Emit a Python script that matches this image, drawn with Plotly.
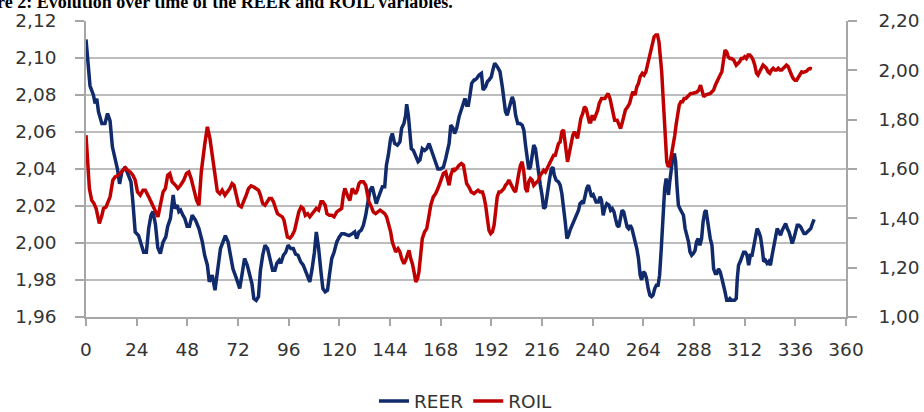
import plotly.graph_objects as go

# ---- data ----
reer_t = [0, 1.1, 1.9, 3.5, 4.3, 5.1, 5.9, 7.5, 9.0, 10.2, 11.4, 12.5, 13.8, 14.9, 15.9, 17.0, 18.6, 20.2, 21.3, 22.2,
          23.3, 24.9, 26.2, 27.3, 28.6, 29.7, 30.8, 31.7, 32.9, 34.0, 35.2, 36.5, 37.8, 38.7, 40.0, 41.3, 42.1, 43.2,
          44.0, 44.8, 45.9, 46.8, 47.9, 49.0, 50.3, 51.9, 53.5, 55.1, 56.2, 57.5, 58.4, 59.8, 61.1,
          62.7, 63.7, 64.9, 66.0, 67.3, 68.5, 69.6, 71.2, 72.8, 73.9, 75.1, 76.4, 77.5, 78.6, 79.5, 80.6, 81.7, 82.6,
          83.7, 84.8, 86.0, 87.3, 88.4, 89.5, 90.4, 91.5, 92.3, 93.5, 94.6, 95.7, 97.0, 98.2, 99.3, 100.4, 101.6,
          102.9, 104.0, 105.0, 106.0, 107.1, 108.2, 109.1, 110.2, 111.3, 112.2, 113.3, 114.4, 115.3, 116.4, 117.5,
          118.8, 120.0, 121.1, 122.3,
          124.6, 126.1, 127.3, 128.2, 129.3, 130.4, 131.4, 132.5, 133.6, 134.5, 135.6, 136.4, 137.5, 138.3, 139.3,
          140.4, 141.5, 142.3, 143.2, 144.3, 145.1, 146.2, 147.5, 148.7, 149.5, 150.6, 151.4, 151.9, 152.7, 153.5,
          154.1, 155.1, 156.2, 157.3, 158.2, 159.3, 160.4, 161.4, 162.5, 163.6, 164.5, 165.6, 166.7, 168.0, 169.3,
          170.4, 171.2, 172.0, 172.8, 173.9, 174.6, 175.6, 176.7, 177.8, 178.8, 179.5, 180.3, 181.1, 181.9, 182.7,
          183.8,
          184.2, 185.1, 186.2, 187.3, 188.1, 189.3, 190.1, 190.9, 192.0, 192.9, 193.6, 194.8, 196.1, 197.2, 198.0,
          198.7, 199.5, 200.8, 201.9, 202.7, 203.5, 204.5, 205.5, 206.6, 207.4, 208.2, 209.0, 209.7, 210.5, 211.3,
          212.1, 212.9, 213.6, 214.4, 215.2, 216.0, 216.8, 217.6, 218.7, 219.6, 220.4, 221.2, 221.8, 222.7, 223.8,
          224.6, 225.4, 226.2, 227.0, 227.8, 228.5, 229.3, 230.1, 231.2, 232.2, 233.3, 234.0, 234.8, 235.6, 236.4,
          237.2, 238.0, 238.7, 239.5, 240.3, 241.6, 242.7, 243.5, 244.2, 245.0,
          245.7, 246.7, 247.7, 248.5, 249.3, 250.1, 250.8, 251.6, 252.4, 253.2, 253.9, 254.7, 255.5, 256.3, 257.0,
          257.8, 258.6, 259.4, 260.1, 260.9, 261.7, 262.5, 263.2, 264.0, 264.8, 265.5, 266.3, 267.1, 267.9, 268.6,
          269.4, 270.2, 271.0, 271.7, 272.5, 273.3, 274.1, 274.8, 275.3, 275.9, 276.5, 277.2, 277.9, 278.7, 279.3,
          279.9, 280.6, 281.3, 282.3, 283.0, 283.8, 284.6, 285.4, 286.1, 286.9, 287.7, 288.5, 289.2, 290.0, 290.8,
          291.6, 292.3, 293.1, 293.7, 294.3, 295.0, 295.7, 296.5, 297.3, 298.1, 298.8, 299.6, 300.4, 301.2, 301.9,
          302.7, 303.5, 304.2, 305.0, 305.8,
          307.2, 308.0, 308.5, 309.1, 309.9, 310.7, 311.5, 312.3, 313.1, 313.9, 314.7, 315.5, 316.3, 317.1, 317.9,
          318.7, 319.5, 320.3, 321.0, 321.8, 322.6, 323.4, 324.2, 325.0, 325.8, 326.6, 327.4, 328.2, 329.0, 329.8,
          330.6, 331.4, 332.2, 333.0, 333.7, 334.5, 335.3, 336.1, 336.9, 337.7, 338.5, 339.3, 340.1, 340.9, 341.7,
          342.5, 343.3, 344.1, 344.9]
reer_val = [2.110, 2.098, 2.085, 2.080, 2.0755, 2.078, 2.071, 2.0646, 2.0646, 2.070, 2.066, 2.052, 2.046, 2.040, 2.032,
            2.0385, 2.041, 2.036, 2.033, 2.0222, 2.006, 2.004, 1.9988, 1.995, 1.995, 2.008, 2.015, 2.017, 2.010, 1.9975,
            1.9943, 2.0005, 2.0033, 2.0089, 2.0133, 2.026, 2.0187, 2.0205, 2.017, 2.0178, 2.015, 2.0133, 2.009, 2.009,
            2.015, 2.0123, 2.0078, 2.0006, 1.9934, 1.988, 1.979, 1.9826, 1.9745,
            1.988, 1.997, 2.0006, 2.004, 2.0006, 1.994, 1.986, 1.981, 1.9754, 1.983, 1.9916, 1.988, 1.9826, 1.978,
            1.970, 1.969, 1.971, 1.985, 1.9934, 1.9988, 1.997, 1.990, 1.9853, 1.9853, 1.989, 1.9907, 1.989, 1.9934,
            1.995, 1.9988, 1.997, 1.997, 1.994, 1.9934, 1.990, 1.988, 1.9844, 1.981, 1.979, 1.986, 1.995, 2.006,
            1.997, 1.9844, 1.9754, 1.9736, 1.9745, 1.9826, 1.9916, 1.995, 2.0006, 2.0033, 2.005, 2.005,
            2.004, 2.005, 2.006, 2.0024, 2.006, 2.007, 2.0096, 2.015, 2.0222, 2.0286, 2.0304, 2.026, 2.0213, 2.024,
            2.0276, 2.0304, 2.0304, 2.042, 2.0475, 2.0565, 2.0592, 2.0538, 2.0529, 2.0547, 2.062, 2.0646, 2.069,
            2.075, 2.069, 2.060, 2.051, 2.050, 2.0475, 2.044, 2.045, 2.051, 2.050, 2.051, 2.0538, 2.050, 2.0466,
            2.043, 2.040, 2.040, 2.041, 2.0457, 2.049, 2.0538, 2.0637, 2.062, 2.0592, 2.062, 2.0682, 2.0727, 2.0763,
            2.0781, 2.0745, 2.0745, 2.080, 2.0863, 2.0881,
            2.0881, 2.089, 2.0908, 2.0917, 2.0827, 2.0845, 2.0872, 2.0881, 2.0899, 2.0944, 2.0971, 2.0953, 2.0926,
            2.0845, 2.0773, 2.071, 2.0691, 2.0745, 2.079, 2.0763, 2.0691, 2.0646, 2.0646, 2.0637, 2.061, 2.0529,
            2.0457, 2.040, 2.041, 2.0475, 2.0529, 2.051, 2.044, 2.0367, 2.0313, 2.026, 2.0186, 2.0195, 2.0295,
            2.0349, 2.040, 2.041, 2.0367, 2.034, 2.033, 2.0313, 2.0268, 2.0205, 2.0114, 2.0024, 2.004, 2.007, 2.009,
            2.0114, 2.015, 2.0177, 2.0213, 2.0222, 2.0213, 2.026, 2.0295, 2.0313, 2.0277, 2.025, 2.026, 2.0222,
            2.0222, 2.025, 2.023, 2.015,
            2.0186, 2.0213, 2.0205, 2.0177, 2.0186, 2.0168, 2.0132, 2.0096, 2.0087, 2.015, 2.0177, 2.0168, 2.0123,
            2.0087, 2.0078, 2.0096, 2.0078, 2.0042, 2.0006, 1.997, 1.9916, 1.9826, 1.980, 1.9844, 1.9835, 1.9808,
            1.9754, 1.9718, 1.971, 1.9718, 1.9754, 1.9772, 1.9772, 1.9826, 1.997, 2.015, 2.0295, 2.0349, 2.0313,
            2.026, 2.033, 2.0385, 2.0457, 2.0484, 2.044, 2.0313, 2.0205, 2.0186, 2.0168, 2.015, 2.0078, 2.0042,
            2.0006, 1.9952, 1.9934, 1.9943, 1.996, 2.0006, 2.0024, 1.9988, 2.0024, 2.0114, 2.0168, 2.0177, 2.0132,
            2.006, 2.0024, 1.9988, 1.986, 1.9835, 1.9835, 1.986, 1.9844, 1.9808, 1.978, 1.9736, 1.969, 1.969, 1.970,
            1.969,
            1.969, 1.970, 1.9808, 1.988, 1.990, 1.9925, 1.995, 1.995, 1.9934, 1.988, 1.9934, 1.9934, 1.9988, 2.0042,
            2.0078, 2.006, 2.0033, 1.997, 1.990, 1.9907, 1.989, 1.990, 1.988, 1.9934, 1.9988, 2.0033, 2.0078, 2.006,
            2.0042, 2.0069, 2.0087, 2.0105, 2.0078, 2.006, 2.0033, 1.9997, 2.0024, 2.006, 2.0096, 2.0096, 2.0087,
            2.0069, 2.0051, 2.0051, 2.006, 2.0069, 2.0078, 2.0105, 2.0128]

roil_t = [0, 0.6, 1.6, 2.7, 3.8, 4.8, 5.9, 6.3, 7.5, 8.3, 9.5, 10.6, 11.4, 12.7, 13.8, 15.4, 17.0, 18.6, 19.7, 21.0,
          22.2, 23.3, 24.4, 25.7, 27.0, 28.1, 29.7, 30.8, 32.1, 33.2, 34.1, 35.2, 36.5, 37.6, 38.7, 39.7, 40.8,
          42.4, 43.5, 44.8, 46.3, 47.6, 48.7, 49.8, 51.1, 52.4, 53.5, 54.6, 56.2, 57.5, 58.7, 59.8, 61.0, 62.2,
          63.4, 64.5, 65.8, 67.0, 68.1, 69.2, 70.1, 71.2, 72.3, 73.6, 74.8, 75.9, 77.0, 78.2, 79.5, 80.6, 81.7,
          82.6, 83.7, 84.8, 85.7, 86.8, 87.9, 88.8, 89.6, 90.7, 91.9, 93.0, 93.8, 94.6, 95.4, 96.6, 97.7, 98.8,
          99.7, 100.8, 101.9, 102.9, 103.9, 105.0, 106.0, 107.1, 108.2, 109.1, 110.2, 111.3, 112.2, 113.3, 114.1,
          115.3, 116.4, 117.5, 118.8, 120.0, 121.1, 121.9, 122.6,
          124.1, 125.0, 126.1, 126.9, 127.7, 128.5, 129.3, 130.1, 131.4, 132.5, 133.3, 134.0, 135.2, 136.1, 137.2,
          138.3, 139.3, 140.4, 141.5, 142.4, 143.5, 144.3, 145.1, 145.9, 146.7, 147.8, 148.7, 149.5, 150.6, 151.4,
          152.2, 153.0, 153.8, 154.6, 155.4, 156.2, 157.0, 157.7, 158.5, 159.3, 160.4, 161.4, 162.5, 163.3, 164.5,
          165.6, 166.7, 168.0, 169.3, 170.4, 171.2, 172.0, 172.8, 173.9, 174.6, 175.6, 176.7, 177.8, 178.8, 179.5,
          180.3, 181.4, 182.5, 183.8,
          184.6, 185.7, 186.7, 187.8, 188.5, 189.3, 190.1, 190.9, 191.7, 192.5, 193.3, 194.0, 194.8, 195.6, 196.4,
          197.2, 198.0, 198.7, 199.5, 200.3, 201.1, 201.9, 202.7, 203.5, 204.2, 205.0, 205.8, 206.6, 207.4, 208.2,
          209.0, 209.7, 210.5, 211.3, 212.1, 212.9, 213.6, 214.4, 215.2, 216.0, 216.8, 217.6, 218.4, 219.1, 219.9,
          220.7, 221.5, 222.3, 223.1, 223.8, 224.6, 225.4, 226.2, 227.0, 228.1, 228.9, 229.6, 230.6, 231.4, 232.2,
          232.8, 233.6, 234.4, 235.3, 236.1, 236.9, 237.5, 238.4, 239.1, 239.8, 240.6, 241.6, 242.4, 243.1, 244.2,
          245.8,
          246.7, 247.3, 248.2, 248.8, 249.8, 250.4, 251.6, 252.4, 253.2, 253.9, 254.7, 255.5, 256.6, 257.5, 258.3,
          259.0, 260.1, 260.9, 261.7, 262.5, 263.5, 264.3, 265.2, 266.0, 266.8, 267.6, 268.3, 269.1, 269.9, 270.7,
          271.4, 272.0, 272.7, 273.3, 273.9, 274.5, 275.1, 275.8, 276.4, 277.0, 277.6, 278.2, 278.9, 279.5, 280.3,
          281.0, 281.8, 282.6, 283.3, 284.1, 284.9, 285.7, 286.4, 287.2, 288.0, 288.8, 289.5, 290.3, 291.1, 291.9,
          292.6, 293.4, 294.2, 295.0, 295.7, 296.5, 297.3, 298.1, 298.8, 299.6, 300.4, 301.2, 301.9, 302.7, 303.5,
          304.2, 305.0, 305.8, 306.8,
          308.0, 308.8, 309.6, 310.4, 311.2, 312.0, 312.8, 313.6, 314.4, 315.2, 316.0, 316.8, 317.6, 318.3, 319.1,
          319.9, 320.7, 321.5, 322.3, 323.1, 323.9, 324.7, 325.5, 326.3, 327.1, 327.9, 328.7, 329.5, 330.3, 331.0,
          331.8, 332.6, 333.4, 334.2, 335.0, 335.8, 336.6, 337.4, 338.2, 339.0, 339.8, 340.6, 341.4, 342.2, 343.0,
          343.8]
roil_val = [1.737, 1.656, 1.521, 1.473, 1.460, 1.440, 1.400, 1.379, 1.410, 1.440, 1.446, 1.473, 1.487, 1.555, 1.568,
            1.575, 1.588, 1.605, 1.595, 1.588, 1.575, 1.555, 1.507, 1.494, 1.514, 1.514, 1.487, 1.467, 1.446, 1.426,
            1.406, 1.453, 1.507, 1.521, 1.575, 1.582, 1.548, 1.534, 1.521, 1.534, 1.555, 1.582, 1.588, 1.561, 1.521,
            1.473, 1.453, 1.588, 1.697, 1.771, 1.724, 1.656, 1.590, 1.510,
            1.500, 1.514, 1.494, 1.507, 1.521, 1.541, 1.534, 1.494, 1.453, 1.446, 1.467, 1.494, 1.521, 1.532, 1.527,
            1.521, 1.514, 1.494, 1.460, 1.453, 1.467, 1.480, 1.480, 1.467, 1.446, 1.419, 1.412, 1.406, 1.392, 1.358,
            1.324, 1.320, 1.331, 1.351, 1.385, 1.426, 1.446, 1.440, 1.412, 1.419, 1.406, 1.419, 1.426, 1.440, 1.433,
            1.467, 1.467, 1.453, 1.419, 1.412, 1.412, 1.406, 1.426, 1.433, 1.440, 1.494, 1.521,
            1.487, 1.473, 1.521, 1.507, 1.500, 1.514, 1.541, 1.548, 1.548, 1.534, 1.494, 1.467, 1.446, 1.426, 1.419,
            1.426, 1.433, 1.426, 1.419, 1.406, 1.372, 1.345, 1.304, 1.277, 1.264, 1.277, 1.264, 1.237, 1.216, 1.230,
            1.250, 1.270, 1.237, 1.216, 1.182, 1.142, 1.155, 1.182, 1.250, 1.318, 1.345, 1.358, 1.412, 1.453, 1.487,
            1.500, 1.521, 1.548, 1.582, 1.588, 1.561, 1.534, 1.575, 1.602, 1.595, 1.602, 1.615, 1.622, 1.615, 1.588,
            1.541, 1.527, 1.507, 1.500,
            1.507, 1.514, 1.507, 1.507, 1.487, 1.453, 1.400, 1.351, 1.338, 1.345, 1.372, 1.426, 1.487, 1.507, 1.507,
            1.514, 1.521, 1.534, 1.541, 1.555, 1.541, 1.527, 1.514, 1.507, 1.555, 1.582, 1.615, 1.629, 1.588, 1.521,
            1.507, 1.548, 1.561, 1.555, 1.534, 1.541, 1.548, 1.555, 1.575, 1.588, 1.595, 1.588, 1.602, 1.615, 1.629,
            1.642, 1.656, 1.656, 1.683, 1.703, 1.710, 1.751, 1.758, 1.697, 1.629, 1.663, 1.703, 1.737, 1.751, 1.737,
            1.724, 1.764, 1.805, 1.825, 1.852, 1.845, 1.818, 1.791, 1.791, 1.818, 1.798, 1.818, 1.839, 1.866, 1.886,
            1.886,
            1.900, 1.906, 1.886, 1.859, 1.818, 1.798, 1.798, 1.784, 1.764, 1.784, 1.811, 1.839, 1.852, 1.866, 1.893,
            1.913, 1.900, 1.933, 1.947, 1.974, 1.988, 1.981, 1.994, 2.021, 2.055, 2.082, 2.109, 2.136, 2.143, 2.143,
            2.116, 2.062, 1.994, 1.900, 1.791, 1.683, 1.629, 1.609, 1.615, 1.642, 1.669, 1.697, 1.737, 1.778, 1.818,
            1.859, 1.873, 1.873, 1.886, 1.886, 1.893, 1.900, 1.906, 1.906, 1.910, 1.910, 1.913, 1.920, 1.940, 1.913,
            1.893, 1.900, 1.902, 1.902, 1.906, 1.913, 1.920, 1.940, 1.954, 1.974, 1.981, 1.994, 2.035, 2.082, 2.075,
            2.055, 2.048, 2.048, 2.042,
            2.021, 2.028, 2.035, 2.048, 2.048, 2.055, 2.048, 2.062, 2.062, 2.055, 2.042, 2.021, 1.988, 1.981, 1.994,
            2.008, 2.021, 2.015, 2.008, 1.994, 1.988, 2.001, 2.008, 2.001, 2.001, 2.008, 2.001, 2.001, 2.008, 2.015,
            2.021, 2.015, 1.994, 1.981, 1.967, 1.960, 1.960, 1.974, 1.988, 1.994, 1.992, 1.994, 1.997, 2.005, 2.008,
            2.005]

x_ticks = [0, 24, 48, 72, 96, 120, 144, 168, 192, 216, 240, 264, 288, 312, 336, 360]
left_ticks = [1.96, 1.98, 2.00, 2.02, 2.04, 2.06, 2.08, 2.10, 2.12]
right_ticks = [1.00, 1.20, 1.40, 1.60, 1.80, 2.00, 2.20]
caption = "Figure 2: Evolution over time of the REER and ROIL variables."

# ---- styling ----
BLUE = "#102A6C"
RED = "#C00000"
GRID = "#BDBDBD"
AXIS = "#A6A6A6"
FONT = dict(family="DejaVu Sans", size=18.5, color="#333333")

fig = go.Figure()
fig.add_trace(go.Scatter(x=reer_t, y=reer_val, name="REER", mode="lines",
                         line=dict(color=BLUE, width=3.5), yaxis="y"))
fig.add_trace(go.Scatter(x=roil_t, y=roil_val, name="ROIL", mode="lines",
                         line=dict(color=RED, width=3.5), yaxis="y2"))

fig.update_layout(
    width=924, height=412,
    margin=dict(l=86, r=78, t=21, b=95, autoexpand=False),
    paper_bgcolor="white", plot_bgcolor="white",
    separators=", ",
    font=FONT,
    showlegend=True,
    legend=dict(orientation="h", x=0.5, xanchor="center", y=-0.221, yanchor="top",
                font=FONT, itemwidth=30, traceorder="normal"),
    xaxis=dict(range=[0, 360], tickmode="array", tickvals=x_ticks,
               ticktext=[str(v) for v in x_ticks], automargin=False,
               showgrid=False, zeroline=False, showline=True, linecolor=AXIS, linewidth=1.5,
               ticks="outside", ticklen=7, tickcolor=AXIS, tickwidth=1.5,
               ticklabelstandoff=8, tickfont=FONT),
    yaxis=dict(range=[1.96, 2.12], tickmode="array", tickvals=left_ticks, automargin=False,
               tickformat=".2f", showgrid=True, gridcolor=GRID, gridwidth=1.6,
               zeroline=False, showline=True, linecolor=AXIS, linewidth=1.5,
               ticks="outside", ticklen=9, tickcolor=AXIS, tickwidth=1.5,
               ticklabelstandoff=15, tickfont=FONT),
    yaxis2=dict(range=[1.0, 2.2], tickmode="array", tickvals=right_ticks, automargin=False,
                tickformat=".2f", overlaying="y", side="right", showgrid=False,
                zeroline=False, showline=True, linecolor=AXIS, linewidth=1.5,
                ticks="outside", ticklen=9, tickcolor=AXIS, tickwidth=1.5,
                ticklabelstandoff=18, tickfont=FONT),
    annotations=[dict(text="<b>" + caption + "</b>", xref="paper", yref="paper",
                      x=(455 - 86) / 760, y=1.0642, xanchor="right", yanchor="middle",
                      showarrow=False, font=dict(family="Liberation Serif", size=18, color="black"))],
)

fig.write_html("out.html", config={"displayModeBar": False},
               post_script="document.body.style.margin='0';")
